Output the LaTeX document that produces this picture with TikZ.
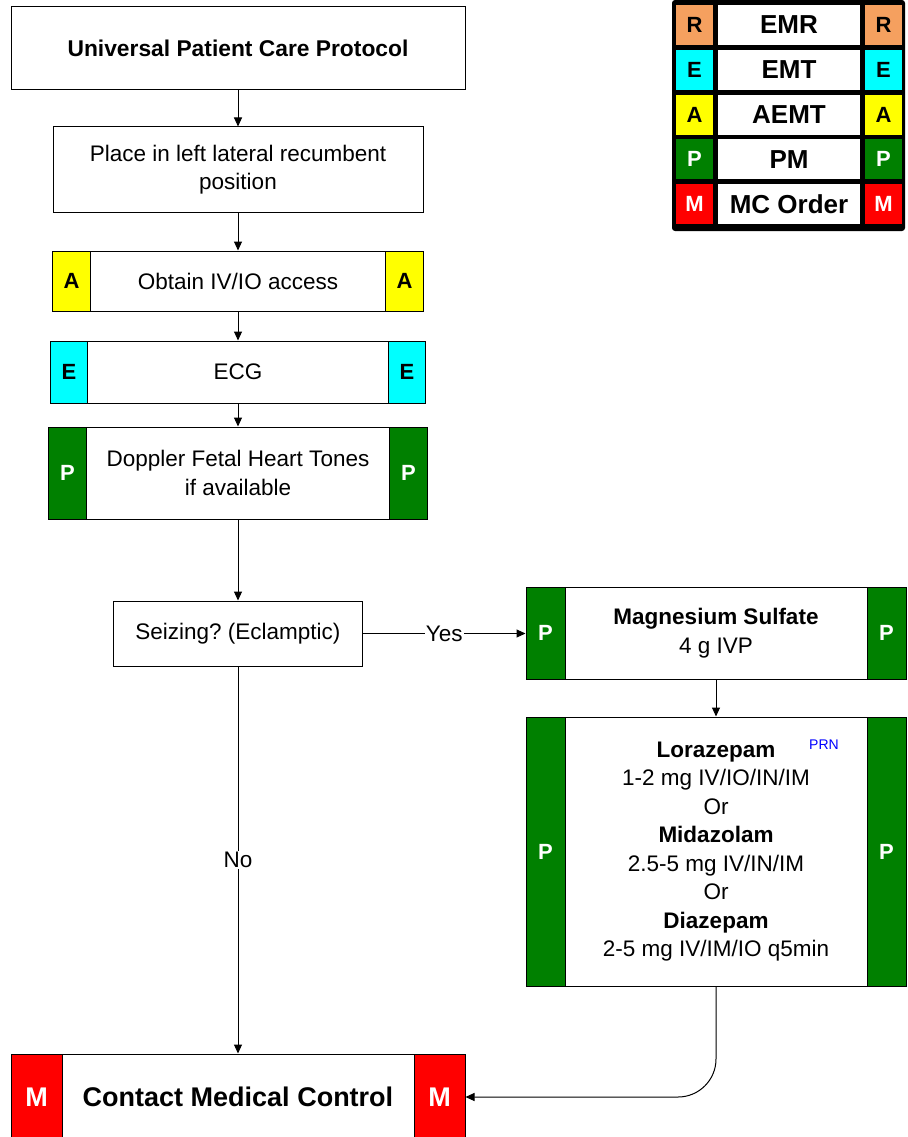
\documentclass[tikz,border=0pt]{standalone}
\usepackage{fontspec}
\setmainfont{Liberation Sans}
\usetikzlibrary{arrows.meta, positioning}
\definecolor{pmgreen}{RGB}{0,128,0}
\definecolor{emrorange}{RGB}{245,160,95}
\definecolor{emtcyan}{RGB}{0,255,255}
\definecolor{aemtyellow}{RGB}{255,255,0}
\definecolor{mcred}{RGB}{255,0,0}
\definecolor{prnblue}{RGB}{0,0,255}
\frenchspacing

\begin{document}
\begin{tikzpicture}[
  x=1pt, y=-1pt,
  line width=1pt,
  box/.style={rectangle, draw, fill=white, align=center, inner sep=0pt, font=\fontsize{22.5}{28.5}\selectfont},
  band/.style={rectangle, draw, inner sep=0pt, font=\fontsize{22}{26}\selectfont\bfseries},
  cell/.style={rectangle, inner sep=0pt, minimum height=40pt, font=\fontsize{22}{26}\selectfont\bfseries},
  arrow/.style={-{Triangle[length=9pt, width=8pt]}},
]
\useasboundingbox (0,0) rectangle (907,1137);
\clip (0,0) rectangle (907,1137);

% Legend
\node[fill=black, rounded corners=3pt, minimum width=233pt, minimum height=231pt, inner sep=0pt] (legend) at (788.5,115.5) {};
\foreach \lt/\name/\col/\tc [count=\i from 0] in {R/EMR/emrorange/black, E/EMT/emtcyan/black, A/AEMT/aemtyellow/black, P/PM/pmgreen/white, M/MC Order/mcred/white} {
  \node[cell, fill=\col, text=\tc, minimum width=37pt] (legL\i) at (694.5,{25+44.8*\i}) {\lt};
  \node[cell, fill=white, minimum width=142pt, font=\fontsize{26}{30}\selectfont\bfseries] (legM\i) at (789,{25+44.8*\i}) {\name};
  \node[cell, fill=\col, text=\tc, minimum width=37pt] (legR\i) at (883.5,{25+44.8*\i}) {\lt};
}

% Main column
\node[box, minimum width=454pt, minimum height=83pt, font=\fontsize{22.8}{28}\selectfont\bfseries] (upcp) at (238,48.5) {Universal Patient Care Protocol};
\node[box, minimum width=370pt, minimum height=85pt, below=36pt of upcp] (llr) {Place in left lateral recumbent\\position};

\node[box, minimum width=371pt, minimum height=60pt, below=38pt of llr] (ivio) {Obtain IV/IO access};
\node[band, fill=aemtyellow, minimum width=38pt, minimum height=60pt, anchor=west] (ivioL) at (ivio.west) {A};
\node[band, fill=aemtyellow, minimum width=38pt, minimum height=60pt, anchor=east] (ivioR) at (ivio.east) {A};

\node[box, minimum width=375pt, minimum height=62pt, below=29pt of ivio] (ecg) {ECG};
\node[band, fill=emtcyan, minimum width=37pt, minimum height=62pt, anchor=west] (ecgL) at (ecg.west) {E};
\node[band, fill=emtcyan, minimum width=37pt, minimum height=62pt, anchor=east] (ecgR) at (ecg.east) {E};

\node[box, minimum width=379pt, minimum height=92pt, below=23pt of ecg] (doppler) {Doppler Fetal Heart Tones\\if available};
\node[band, fill=pmgreen, text=white, minimum width=38pt, minimum height=92pt, anchor=west] (dopplerL) at (doppler.west) {P};
\node[band, fill=pmgreen, text=white, minimum width=38pt, minimum height=92pt, anchor=east] (dopplerR) at (doppler.east) {P};

\node[box, minimum width=249pt, minimum height=65pt] (seize) at (238,633.5) {Seizing? (Eclamptic)};

% Seizure branch
\node[box, minimum width=380pt, minimum height=92pt] (mag) at (716,633) {\textbf{Magnesium Sulfate}\\4 g IVP};
\node[band, fill=pmgreen, text=white, minimum width=39pt, minimum height=92pt, anchor=west] (magL) at (mag.west) {P};
\node[band, fill=pmgreen, text=white, minimum width=39pt, minimum height=92pt, anchor=east] (magR) at (mag.east) {P};

\node[box, minimum width=380pt, minimum height=269pt, below=37pt of mag] (benzo) {\textbf{Lorazepam}\\1-2 mg IV/IO/IN/IM\\Or\\\textbf{Midazolam}\\2.5-5 mg IV/IN/IM\\Or\\\textbf{Diazepam}\\2-5 mg IV/IM/IO q5min};
\node[band, fill=pmgreen, text=white, minimum width=39pt, minimum height=269pt, anchor=west] (benzoL) at (benzo.west) {P};
\node[band, fill=pmgreen, text=white, minimum width=39pt, minimum height=269pt, anchor=east] (benzoR) at (benzo.east) {P};
\node[text=prnblue, font=\fontsize{14}{16}\selectfont, inner sep=0pt] (prn) at (824,745) {PRN};

% Medical control
\node[box, minimum width=454pt, minimum height=86pt, font=\fontsize{27}{32}\selectfont\bfseries] (mc) at (238,1097) {Contact Medical Control};
\node[band, fill=mcred, text=white, minimum width=51pt, minimum height=86pt, anchor=west, font=\fontsize{27}{32}\selectfont\bfseries] (mcL) at (mc.west) {M};
\node[band, fill=mcred, text=white, minimum width=51pt, minimum height=86pt, anchor=east, font=\fontsize{27}{32}\selectfont\bfseries] (mcR) at (mc.east) {M};

% Arrows
\draw[arrow] (upcp.south) -- (llr.north);
\draw[arrow] (llr.south) -- (ivio.north);
\draw[arrow] (ivio.south) -- (ecg.north);
\draw[arrow] (ecg.south) -- (doppler.north);
\draw[arrow] (doppler.south) -- (seize.north);
\draw[arrow] (seize.east) -- node[fill=white, inner sep=1pt, font=\fontsize{22.5}{28}\selectfont] {Yes} (seize.east -| mag.west);
\draw[arrow] (mag.south) -- (benzo.north);
\draw[arrow] (seize.south) -- node[fill=white, inner sep=1pt, font=\fontsize{22.5}{28}\selectfont] {No} (mc.north);
\draw[arrow, rounded corners=38pt] (benzo.south) |- (mc.east);

\end{tikzpicture}
\end{document}
